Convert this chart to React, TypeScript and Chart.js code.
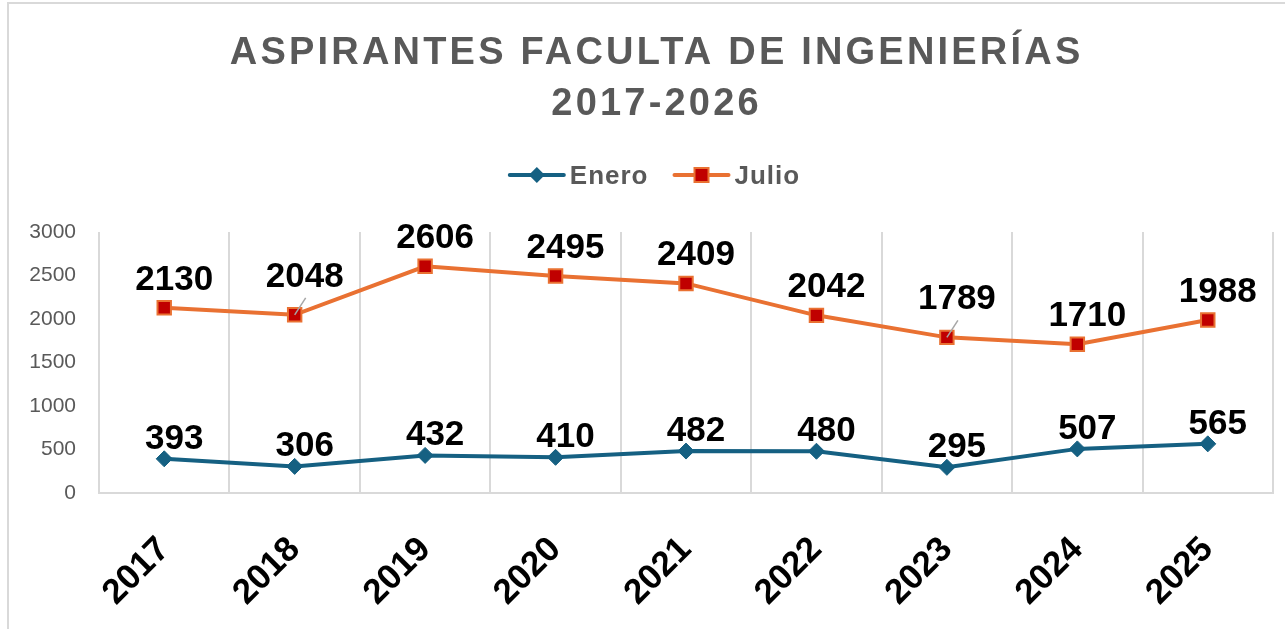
import { useEffect, useRef } from "react";
import { Chart, registerables } from "chart.js";

Chart.register(...registerables);

const categories = ["2017", "2018", "2019", "2020", "2021", "2022", "2023", "2024", "2025"];
const eneroValues = [393, 306, 432, 410, 482, 480, 295, 507, 565];
const julioValues = [2130, 2048, 2606, 2495, 2409, 2042, 1789, 1710, 1988];
const seriesNames = ["Enero", "Julio"];
const titleLines = ["ASPIRANTES FACULTA DE INGENIERÍAS", "2017-2026"];
const yMin = 0;
const yMax = 3000;
const yStep = 500;
const julioLeaderIdx = [1, 6];

const BLUE = "#156082";
const ORANGE = "#E97132";
const RED = "#C00000";
const GRAY_TEXT = "#595959";
const GRID = "#D9D9D9";
const FONT = '"Liberation Sans", Arial, Helvetica, sans-serif';

function drawDiamond(ctx: CanvasRenderingContext2D, x: number, y: number, r: number, fill: string) {
  ctx.beginPath();
  ctx.moveTo(x, y - r);
  ctx.lineTo(x + r, y);
  ctx.lineTo(x, y + r);
  ctx.lineTo(x - r, y);
  ctx.closePath();
  ctx.fillStyle = fill;
  ctx.fill();
}

function drawSquare(ctx: CanvasRenderingContext2D, x: number, y: number, s: number, fill: string, stroke: string) {
  ctx.fillStyle = fill;
  ctx.fillRect(x - s / 2, y - s / 2, s, s);
  ctx.strokeStyle = stroke;
  ctx.lineWidth = 2;
  ctx.strokeRect(x - s / 2, y - s / 2, s, s);
}

const decorPlugin = {
  id: "decor",
  beforeDraw(chart: any) {
    const ctx: CanvasRenderingContext2D = chart.ctx;
    ctx.save();
    ctx.fillStyle = "#ffffff";
    ctx.fillRect(0, 0, chart.width, chart.height);
    ctx.strokeStyle = GRID;
    ctx.lineWidth = 2;
    ctx.beginPath();
    ctx.moveTo(8, chart.height);
    ctx.lineTo(8, 3);
    ctx.lineTo(chart.width, 3);
    ctx.stroke();
    ctx.restore();
  },
  afterDraw(chart: any) {
    const ctx: CanvasRenderingContext2D = chart.ctx;
    const cx = 655;
    ctx.save();
    // Title
    ctx.fillStyle = GRAY_TEXT;
    ctx.font = `bold 38px ${FONT}`;
    (ctx as any).letterSpacing = "3.2px";
    ctx.textAlign = "left";
    ctx.textBaseline = "alphabetic";
    const baselines = [64, 115];
    titleLines.forEach((line, i) => {
      const w = ctx.measureText(line).width - 3.2;
      ctx.fillText(line, cx - w / 2, baselines[i]);
    });

    // Legend
    ctx.font = `bold 26px ${FONT}`;
    (ctx as any).letterSpacing = "1px";
    const lineW = 54;
    const gap = 6;
    const itemGap = 26;
    const w1 = ctx.measureText(seriesNames[0]).width;
    const w2 = ctx.measureText(seriesNames[1]).width;
    const total = lineW + gap + w1 + itemGap + lineW + gap + w2;
    let x = cx - total / 2;
    const ly = 175;
    const colors = [BLUE, ORANGE];
    [w1, w2].forEach((w, i) => {
      ctx.strokeStyle = colors[i];
      ctx.lineWidth = 4;
      ctx.lineCap = "round";
      ctx.beginPath();
      ctx.moveTo(x, ly);
      ctx.lineTo(x + lineW, ly);
      ctx.stroke();
      if (i === 0) drawDiamond(ctx, x + lineW / 2, ly, 8, BLUE);
      else drawSquare(ctx, x + lineW / 2, ly, 14, RED, ORANGE);
      ctx.fillStyle = GRAY_TEXT;
      ctx.fillText(seriesNames[i], x + lineW + gap, 184);
      x += lineW + gap + w + itemGap;
    });
    ctx.restore();
  },
  afterDatasetsDraw(chart: any) {
    const ctx: CanvasRenderingContext2D = chart.ctx;
    const lifts = [10, 18];
    ctx.save();
    ctx.font = `bold 35px ${FONT}`;
    ctx.textAlign = "center";
    ctx.textBaseline = "alphabetic";
    chart.data.datasets.forEach((ds: any, di: number) => {
      const meta = chart.getDatasetMeta(di);
      meta.data.forEach((pt: any, j: number) => {
        let lift = lifts[di];
        if (di === 1 && julioLeaderIdx.includes(j)) {
          ctx.strokeStyle = "#A6A6A6";
          ctx.lineWidth = 1.5;
          ctx.beginPath();
          ctx.moveTo(pt.x, pt.y);
          ctx.lineTo(pt.x + 11, pt.y - 17);
          ctx.stroke();
          lift += 10;
        }
        ctx.fillStyle = "#000000";
        ctx.fillText(String(ds.data[j]), pt.x + 10, pt.y - lift);
      });
    });
    ctx.restore();
  },
};

export default function App() {
  const canvasRef = useRef<HTMLCanvasElement | null>(null);

  useEffect(() => {
    document.body.style.margin = "0";
    const canvas = canvasRef.current;
    if (!canvas) return;
    const chart = new Chart(canvas, {
      type: "line",
      data: {
        labels: categories,
        datasets: [
          {
            label: seriesNames[0],
            data: eneroValues,
            borderColor: BLUE,
            backgroundColor: BLUE,
            borderWidth: 4,
            pointStyle: "rectRot",
            pointRadius: 8,
            pointHoverRadius: 8,
            pointBackgroundColor: BLUE,
            pointBorderColor: BLUE,
            pointBorderWidth: 1,
            tension: 0,
          },
          {
            label: seriesNames[1],
            data: julioValues,
            borderColor: ORANGE,
            backgroundColor: RED,
            borderWidth: 4,
            pointStyle: "rect",
            pointRadius: 9.5,
            pointHoverRadius: 9.5,
            pointBackgroundColor: RED,
            pointBorderColor: ORANGE,
            pointBorderWidth: 2,
            tension: 0,
          },
        ],
      },
      options: {
        responsive: false,
        animation: false,
        layout: { padding: { top: 232, left: 19, right: 12, bottom: 0 } },
        plugins: {
          legend: { display: false },
          title: { display: false },
          tooltip: { enabled: false },
        },
        scales: {
          x: {
            type: "category",
            offset: true,
            grid: { display: true, offset: true, color: GRID, lineWidth: 2, drawTicks: false },
            border: { display: true, color: GRID, width: 2 },
            ticks: {
              color: "#000000",
              font: { family: FONT, size: 35, weight: "bold" },
              minRotation: 45,
              maxRotation: 45,
              padding: 36,
              autoSkip: false,
            },
            afterFit: (scale: any) => {
              scale.height = 136;
            },
          },
          y: {
            min: yMin,
            max: yMax,
            grid: { display: false, drawTicks: false },
            border: { display: false },
            ticks: {
              stepSize: yStep,
              color: GRAY_TEXT,
              font: { family: FONT, size: 21 },
              padding: 23,
              callback: (value: any) => String(value),
            },
            afterFit: (scale: any) => {
              scale.width = 80;
            },
          },
        },
      },
      plugins: [decorPlugin],
    });
    return () => chart.destroy();
  }, []);

  return (
    <div style={{ width: 1285, height: 629 }}>
      <canvas ref={canvasRef} width={1285} height={629} style={{ display: "block" }} />
    </div>
  );
}
